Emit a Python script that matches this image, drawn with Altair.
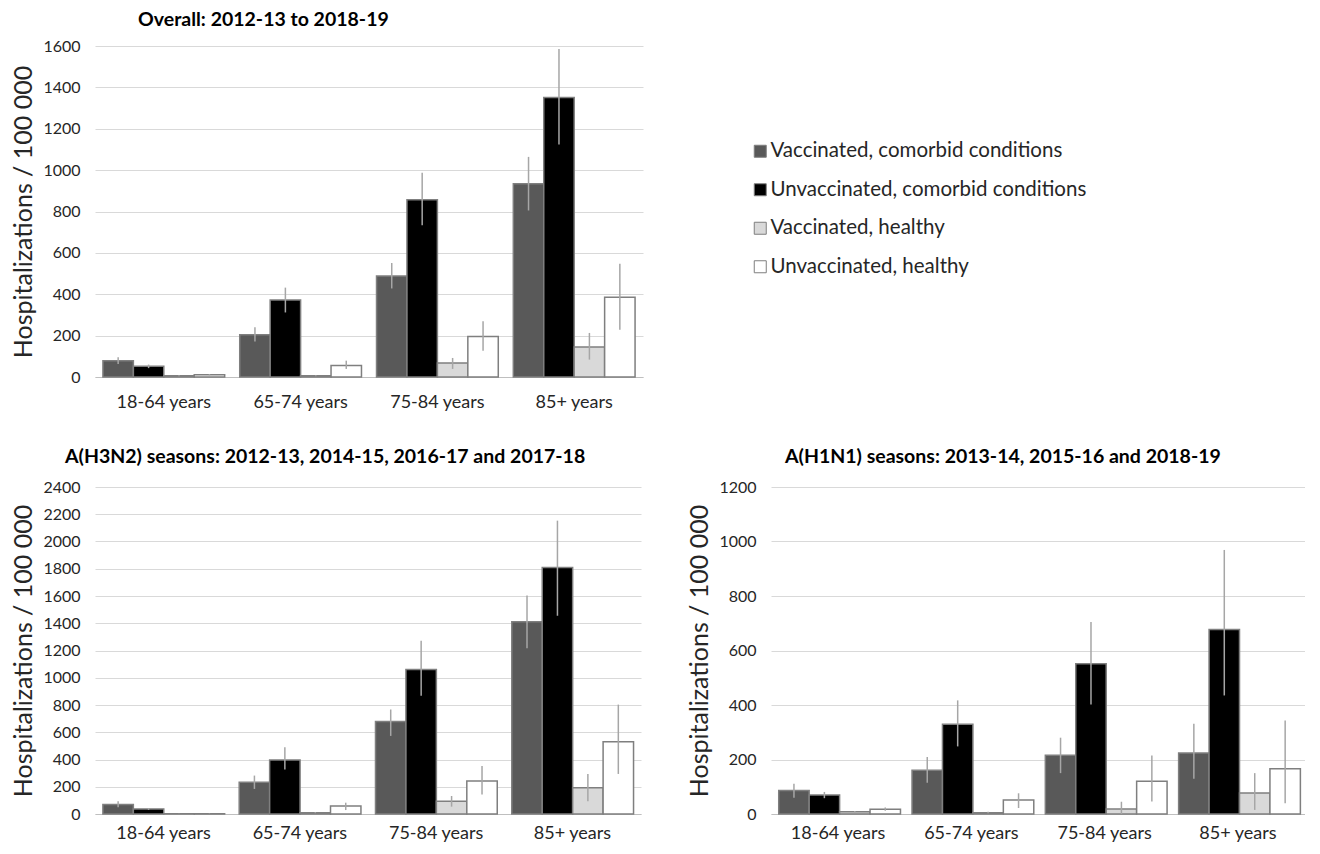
import altair as alt
import pandas as pd

ages = ["18-64 years", "65-74 years", "75-84 years", "85+ years"]
series = [
    "Vaccinated, comorbid conditions",
    "Unvaccinated, comorbid conditions",
    "Vaccinated, healthy",
    "Unvaccinated, healthy",
]
colors = ["#595959", "#000000", "#d9d9d9", "#ffffff"]

# Overall: 2012-13 to 2018-19
ov_vc = [79, 204, 488, 934]
ov_vc_lo = [63, 172, 428, 805]
ov_vc_hi = [95, 240, 551, 1064]
ov_uc = [52, 372, 857, 1351]
ov_uc_lo = [43, 312, 734, 1124]
ov_uc_hi = [60, 432, 987, 1586]
ov_vh = [6, 6, 68, 145]
ov_vh_lo = [4, 4, 39, 84]
ov_vh_hi = [8, 9, 92, 213]
ov_uh = [11, 56, 196, 386]
ov_uh_lo = [8, 39, 127, 229]
ov_uh_hi = [14, 79, 269, 547]

# A(H3N2) seasons
h3_vc = [69, 233, 678, 1411]
h3_vc_lo = [49, 184, 573, 1217]
h3_vc_hi = [93, 282, 767, 1604]
h3_uc = [37, 397, 1060, 1810]
h3_uc_lo = [30, 326, 867, 1455]
h3_uc_hi = [44, 490, 1271, 2153]
h3_vh = [2, 10, 93, 193]
h3_vh_lo = [1, 6, 54, 93]
h3_vh_hi = [3, 14, 132, 294]
h3_uh = [2, 59, 242, 531]
h3_uh_lo = [1, 29, 144, 294]
h3_uh_hi = [4, 83, 353, 803]

# A(H1N1) seasons
h1_vc = [86, 161, 216, 224]
h1_vc_lo = [60, 115, 150, 129]
h1_vc_hi = [111, 209, 280, 331]
h1_uc = [70, 329, 551, 677]
h1_uc_lo = [58, 248, 402, 435]
h1_uc_hi = [81, 417, 705, 969]
h1_vh = [8, 5, 18, 77]
h1_vh_lo = [5, 3, 0, 15]
h1_vh_hi = [11, 8, 45, 150]
h1_uh = [17, 51, 120, 166]
h1_uh_lo = [12, 22, 46, 39]
h1_uh_hi = [24, 76, 215, 343]

FONT = "Lato"
TXT = "#262626"


def make_df(groups):
    rows = []
    for s, (vals, los, his) in zip(series, groups):
        for a, v, lo, hi in zip(ages, vals, los, his):
            rows.append({"age": a, "series": s, "value": v, "lo": lo, "hi": hi})
    return pd.DataFrame(rows)


df_ov = make_df([(ov_vc, ov_vc_lo, ov_vc_hi), (ov_uc, ov_uc_lo, ov_uc_hi),
                 (ov_vh, ov_vh_lo, ov_vh_hi), (ov_uh, ov_uh_lo, ov_uh_hi)])
df_h3 = make_df([(h3_vc, h3_vc_lo, h3_vc_hi), (h3_uc, h3_uc_lo, h3_uc_hi),
                 (h3_vh, h3_vh_lo, h3_vh_hi), (h3_uh, h3_uh_lo, h3_uh_hi)])
df_h1 = make_df([(h1_vc, h1_vc_lo, h1_vc_hi), (h1_uc, h1_uc_lo, h1_uc_hi),
                 (h1_vh, h1_vh_lo, h1_vh_hi), (h1_uh, h1_uh_lo, h1_uh_hi)])

legend = alt.Legend(
    orient="none", legendX=655, legendY=95, title=None,
    symbolType="square", symbolSize=144, symbolStrokeColor="#7f7f7f",
    symbolStrokeWidth=1, symbolOpacity=1, labelFontSize=20.5, labelFont=FONT,
    labelColor=TXT, rowPadding=17.5, labelOffset=0, labelLimit=600,
)


def panel(df, ymax, title, dx, offset, xpad, width, height):
    yscale = alt.Scale(domain=[0, ymax], nice=False)
    yaxis = alt.Axis(values=list(range(0, ymax + 1, 200)), format="d",
                     labelOverlap=False,
                     title="Hospitalizations / 100 000",
                     titleFontSize=25, titleFont=FONT,
                     titleFontWeight="normal", titleColor=TXT,
                     titlePadding=6, labelFontSize=16,
                     labelFont=FONT, labelColor=TXT,
                     labelPadding=15, ticks=False, domain=False,
                     gridColor="#d9d9d9", gridWidth=1.2)
    base = alt.Chart(df).encode(
        x=alt.X("age:N", sort=ages,
                scale=alt.Scale(paddingInner=0.11, paddingOuter=0.058),
                axis=alt.Axis(title=None, labelAngle=0, ticks=False,
                              domainColor="#bfbfbf", domainWidth=1.2,
                              labelFontSize=18, labelFont=FONT,
                              labelColor=TXT, labelPadding=xpad,
                              grid=False)),
        xOffset=alt.XOffset("series:N", sort=series,
                            scale=alt.Scale(paddingInner=0, paddingOuter=0)),
    )
    bars = base.mark_bar(stroke="#7f7f7f", strokeWidth=1.5).encode(
        y=alt.Y("value:Q", scale=yscale, axis=yaxis),
        color=alt.Color("series:N", sort=series,
                        scale=alt.Scale(domain=series, range=colors),
                        legend=legend),
    )
    err = base.mark_rule(color="#a6a6a6", strokeWidth=1.5).encode(
        y=alt.Y("lo:Q", scale=yscale, axis=yaxis), y2="hi:Q")
    return alt.layer(bars, err).properties(
        width=width, height=height,
        title=alt.TitleParams(title, anchor="start", frame="group", dx=dx,
                              fontSize=19.5, font=FONT, fontWeight="bold",
                              color="#000000", offset=offset),
    )


p1 = panel(df_ov, 1600, "Overall: 2012-13 to 2018-19", 43, 7.5, 16, 548, 331)
p2 = panel(df_h3, 2400,
           "A(H3N2) seasons:  2012-13, 2014-15, 2016-17 and 2017-18",
           -30, 11.5, 10, 546, 327)
p3 = panel(df_h1, 1200,
           "A(H1N1) seasons:  2013-14, 2015-16 and 2018-19",
           14, 11.5, 10, 534, 327)

chart = alt.vconcat(
    p1,
    alt.hconcat(p2, p3, spacing=46),
    spacing=36,
).properties(
    padding={"left": 3, "top": 2, "right": 0, "bottom": 0}
).configure(background="white").configure_view(strokeWidth=0)

chart.save("out.html", embed_options={"renderer": "svg", "actions": False})
